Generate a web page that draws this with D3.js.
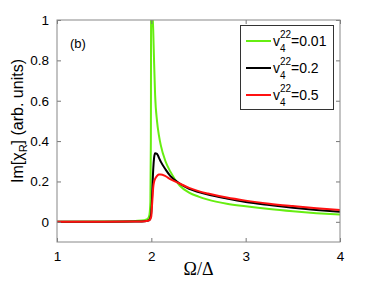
<!DOCTYPE html>
<html>
<head>
<meta charset="utf-8">
<script src="https://cdn.jsdelivr.net/npm/d3@7"></script>
<style>
  body { margin: 0; background: #fff; }
  svg { display: block; font-family: "Liberation Sans", Arial, sans-serif; }
</style>
</head>
<body>
<svg id="chart" width="374" height="281"></svg>
<script>
// x grid (Omega / Delta), shared by every curve
var omega = [1.0, 1.5, 1.8, 1.9, 1.95, 1.97, 1.98, 1.99, 1.995, 2.0, 2.005, 2.01, 2.02, 2.03, 2.04,
             2.06, 2.08, 2.1, 2.15, 2.2, 2.3, 2.4, 2.5, 2.6, 2.8, 3.0, 3.25, 3.5, 3.75, 4.0];

// Im[chi_R] for v4^22 = 0.01, 0.2, 0.5
var chiGreen = [0, 0.001, 0.003, 0.006, 0.012, 0.02, 0.035, 0.1, 0.4, 1.6, 1.3, 1.08, 0.95, 0.78, 0.63,
                0.5, 0.43, 0.38, 0.3, 0.25, 0.18, 0.145, 0.125, 0.11, 0.09, 0.077, 0.063, 0.052, 0.043, 0.036];
var chiBlack = [0, 0, 0.001, 0.002, 0.004, 0.007, 0.01, 0.02, 0.03, 0.05, 0.09, 0.15, 0.26, 0.32, 0.34,
                0.337, 0.318, 0.298, 0.26, 0.228, 0.19, 0.163, 0.148, 0.135, 0.115, 0.098, 0.083, 0.07, 0.059, 0.05];
var chiRed   = [0, 0, 0.001, 0.002, 0.004, 0.006, 0.009, 0.014, 0.02, 0.03, 0.065, 0.1, 0.17, 0.2, 0.213,
                0.227, 0.234, 0.235, 0.226, 0.212, 0.19, 0.168, 0.152, 0.14, 0.12, 0.105, 0.09, 0.078, 0.067, 0.058];

var legendValues = ["0.01", "0.2", "0.5"];
var xTicks = [1, 2, 3, 4];
var yTicks = [0, 0.2, 0.4, 0.6, 0.8, 1];

var series = [
  {name: legendValues[0], color: "#66ee11", values: chiGreen},
  {name: legendValues[1], color: "#000000", values: chiBlack},
  {name: legendValues[2], color: "#ff1111", values: chiRed}
];

var svg = d3.select("#chart");
var margin = {top: 20, right: 34, bottom: 39, left: 57},
    width = 374 - margin.left - margin.right,
    height = 281 - margin.top - margin.bottom;

var x = d3.scaleLinear().domain([1, 4]).range([0, width]);
var y = d3.scaleLinear().domain([-0.1, 1]).range([height, 0]);

var g = svg.append("g")
    .attr("transform", "translate(" + margin.left + "," + margin.top + ")");

g.append("clipPath").attr("id", "plotclip")
  .append("rect").attr("width", width).attr("height", height);

// curves
var line = d3.line()
    .x(function (d) { return x(d[0]); })
    .y(function (d) { return y(d[1]); })
    .curve(d3.curveMonotoneX);

g.append("g").attr("clip-path", "url(#plotclip)")
  .selectAll("path")
  .data(series)
  .enter().append("path")
    .attr("fill", "none")
    .attr("stroke", function (d) { return d.color; })
    .attr("stroke-width", 2)
    .attr("d", function (d) { return line(d.values.map(function (v, i) { return [omega[i], v]; })); });

// axes, ticks pointing inward on all four sides
function styleAxis(sel) {
  sel.select(".domain").remove();
  sel.selectAll(".tick line").attr("stroke", "#777");
  sel.selectAll(".tick text").attr("fill", "#000").style("font-size", "13.5px")
    .style("font-family", "'Liberation Sans', Arial, sans-serif");
}

g.append("g").attr("transform", "translate(0," + height + ")")
  .call(d3.axisBottom(x).tickValues(xTicks).tickFormat(d3.format("d")).tickSizeInner(-4).tickPadding(9))
  .call(styleAxis);
g.append("g")
  .call(d3.axisTop(x).tickValues(xTicks).tickSizeInner(-4).tickFormat(""))
  .call(styleAxis);
g.append("g")
  .call(d3.axisLeft(y).tickValues(yTicks).tickFormat(function (d) { return d === 0 ? "0" : d === 1 ? "1" : d3.format(".1f")(d); }).tickSizeInner(-4).tickPadding(8))
  .call(styleAxis);
g.append("g").attr("transform", "translate(" + width + ",0)")
  .call(d3.axisRight(y).tickValues(yTicks).tickSizeInner(-4).tickFormat(""))
  .call(styleAxis);

g.append("rect")
  .attr("width", width).attr("height", height)
  .attr("fill", "none").attr("stroke", "#888").attr("stroke-width", 1);

// panel label
g.append("text").attr("x", 13).attr("y", 28)
  .style("font-size", "13px").attr("fill", "#000").text("(b)");

// legend
var lg = svg.append("g").attr("transform", "translate(240,25)");
lg.append("rect").attr("x", 0.5).attr("y", 0.5).attr("width", 93).attr("height", 84)
  .attr("fill", "#fff").attr("stroke", "#333").attr("stroke-width", 1);

var item = lg.selectAll("g.item").data(series).enter().append("g")
  .attr("class", "item")
  .attr("transform", function (d, i) { return "translate(0," + (16 + i * 27) + ")"; });

item.append("line").attr("x1", 6).attr("x2", 31).attr("y1", 0).attr("y2", 0)
  .attr("stroke", function (d) { return d.color; }).attr("stroke-width", 2);
item.append("text").attr("x", 33).attr("y", 5).style("font-size", "14px").text("v");
item.append("text").attr("x", 40).attr("y", -3).style("font-size", "10px").text("22");
item.append("text").attr("x", 40).attr("y", 11).style("font-size", "10px").text("4");
item.append("text").attr("x", 51).attr("y", 5).style("font-size", "14px")
  .text(function (d) { return "=" + d.name; });

// axis titles
svg.append("text")
  .attr("transform", "translate(23," + (margin.top + height / 2 - 10) + ") rotate(-90)")
  .attr("text-anchor", "middle").style("font-size", "16px").attr("fill", "#000")
  .call(function (t) {
    t.append("tspan").text("Im[\u03c7");
    t.append("tspan").attr("dy", 4).style("font-size", "11px").text("R");
    t.append("tspan").attr("dy", -4).text("] (arb. units)");
  });

svg.append("text")
  .attr("x", margin.left + width / 2).attr("y", 275)
  .attr("text-anchor", "middle")
  .style("font-family", "'Liberation Serif', 'Times New Roman', serif")
  .style("font-size", "18px").attr("fill", "#000")
  .text("\u03a9/\u0394");
</script>
</body>
</html>
